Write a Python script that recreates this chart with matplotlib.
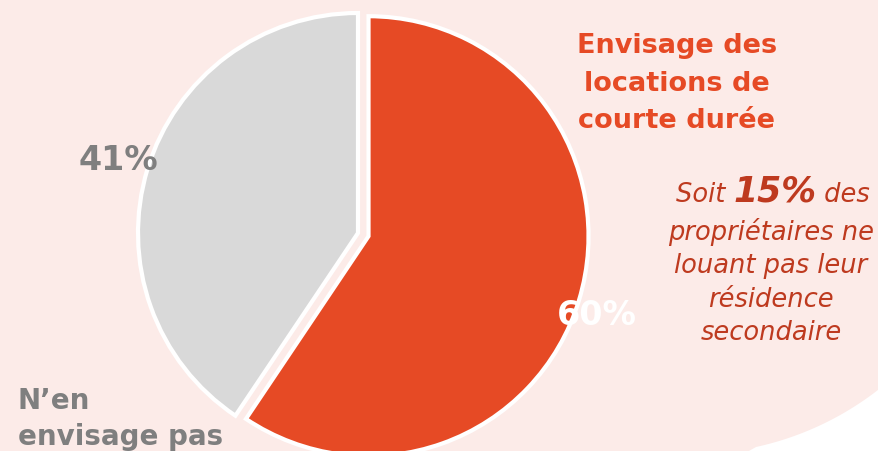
"""Pie chart: short-term rental intentions among second-home owners."""
import numpy as np
import matplotlib
matplotlib.use("Agg")
import matplotlib.pyplot as plt
from matplotlib.patches import Polygon
from matplotlib.offsetbox import TextArea, HPacker, AnnotationBbox

# data
categories = ["Envisage des locations de courte durée", "N\u2019en envisage pas"]
shares = [60, 41]
labels_pct = ["60%", "41%"]
highlight = "15%"
title_lines = ["Envisage des", "locations de", "courte durée"]
other_lines = ["N\u2019en", "envisage pas"]
note_lines = ["propriétaires ne", "louant pas leur", "résidence", "secondaire"]

W, H = 879, 452
RED = "#E64A25"
GREY = "#D9D9D9"
PINK = "#FCEBE8"
DARK_RED = "#BE3A1F"
TXT_GREY = "#7F7F7F"
FONT = "DejaVu Sans"

fig = plt.figure(figsize=(W / 100, H / 100), dpi=100, facecolor=PINK)

# pie axes: centre (358, 234) px from top-left, radius 220 px
cx, cy, r = 358, 234, 220
half = 1.2 * r
ax_pie = fig.add_axes([(cx - half) / W, (H - cy - half) / H, 2 * half / W, 2 * half / H])
ax_pie.pie(shares, colors=[RED, GREY], startangle=90, counterclock=False,
           explode=[0.05, 0], radius=1.0,
           wedgeprops=dict(edgecolor="white", linewidth=3))
ax_pie.set_xlim(-1.2, 1.2)
ax_pie.set_ylim(-1.2, 1.2)
ax_pie.axis("off")
ax_pie.set_zorder(1)

# overlay axes in pixel coordinates for background shape and texts
ax = fig.add_axes([0, 0, 1, 1])
ax.set_xlim(0, W)
ax.set_ylim(H, 0)
ax.axis("off")
ax.patch.set_visible(False)
ax.set_zorder(2)

# white corner outside the pink blob (bottom right)
t = np.linspace(np.arctan2(452 - 150, 757 - 691), np.arctan2(390 - 150, 879 - 691), 60)
arc = np.column_stack([691 + 305 * np.cos(t), 150 + 305 * np.sin(t)])
corner = np.vstack([arc, [[W + 5, 385], [W + 5, H + 5], [740, H + 5]]])
ax.add_patch(Polygon(corner, closed=True, facecolor="white", edgecolor="none"))

# category labels
for line, yb in zip(title_lines, [53, 91, 128]):
    ax.text(677, yb, line, color=RED, fontsize=19.5, fontweight="bold",
            family=FONT, ha="center", va="baseline")
for line, yb in zip(other_lines, [409, 445]):
    ax.text(18, yb, line, color=TXT_GREY, fontsize=20, fontweight="bold",
            family=FONT, ha="left", va="baseline")

# percentages
ax.text(118, 170, labels_pct[1], color=TXT_GREY, fontsize=24, fontweight="bold",
        family=FONT, ha="center", va="baseline")
ax.text(597, 325, labels_pct[0], color="white", fontsize=24, fontweight="bold",
        family=FONT, ha="center", va="baseline")

# side note, first line with bold highlight
note_style = dict(color=DARK_RED, fontsize=18.5, style="italic", family=FONT)
line1 = HPacker(children=[
    TextArea("Soit ", textprops=note_style),
    TextArea(highlight, textprops=dict(note_style, fontsize=25, fontweight="bold")),
    TextArea(" des", textprops=note_style),
], align="baseline", pad=0, sep=0)
ax.add_artist(AnnotationBbox(line1, (773, 192), frameon=False, box_alignment=(0.5, 0.5)))
for line, yb in zip(note_lines, [240, 273, 307, 340]):
    ax.text(771, yb, line, ha="center", va="baseline", **note_style)

fig.savefig("out.png", dpi=100, facecolor=PINK)
